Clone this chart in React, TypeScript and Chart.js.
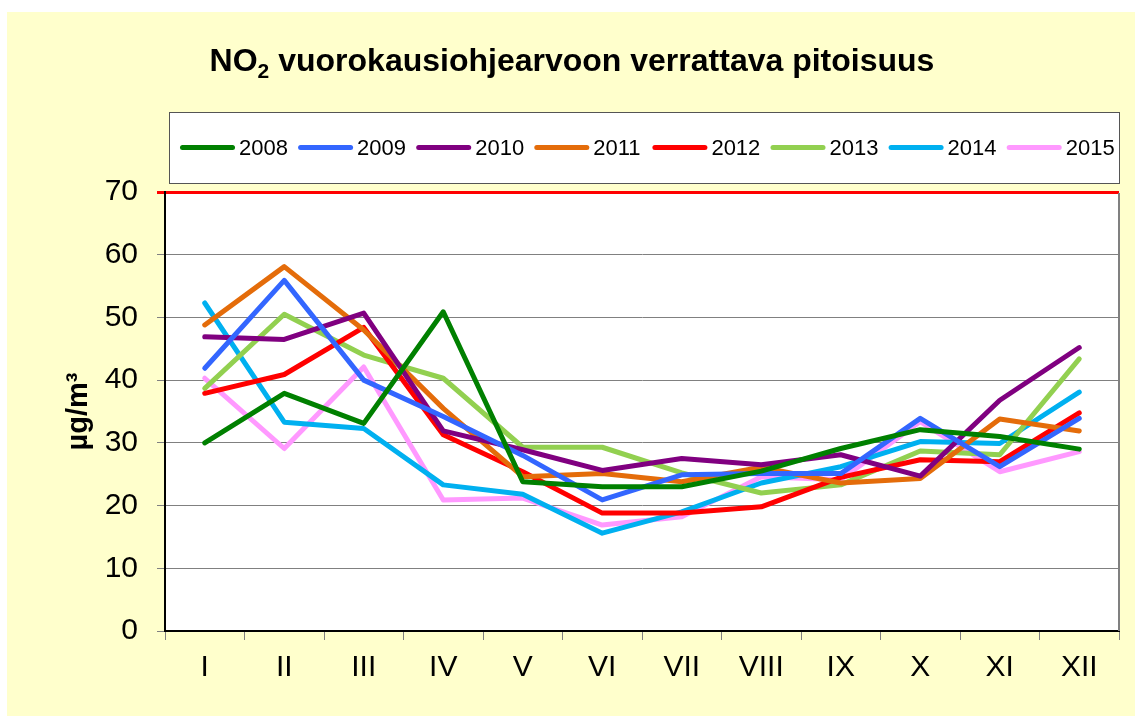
import { useEffect, useRef } from "react";
import { Chart, registerables } from "chart.js";

Chart.register(...registerables);

const W = 1135;
const H = 716;

const months = ["I", "II", "III", "IV", "V", "VI", "VII", "VIII", "IX", "X", "XI", "XII"];
const years = ["2008", "2009", "2010", "2011", "2012", "2013", "2014", "2015"];
const colors = ["#008000", "#3366FF", "#800080", "#E46C0A", "#FF0000", "#92D050", "#00B0F0", "#FF99FF"];

const v2008 = [30.0, 37.9, 33.1, 50.9, 23.8, 23.0, 23.0, 25.5, 29.1, 32.1, 31.0, 29.0];
const v2009 = [41.9, 55.9, 40.0, 34.2, 28.0, 20.9, 24.9, 25.1, 25.1, 33.9, 26.2, 33.9];
const v2010 = [46.9, 46.5, 50.7, 31.9, 28.9, 25.6, 27.5, 26.5, 28.1, 24.7, 36.8, 45.2];
const v2011 = [48.8, 58.1, 48.0, 35.5, 24.6, 25.1, 23.8, 26.1, 23.6, 24.3, 33.8, 31.9];
const v2012 = [37.9, 40.9, 48.4, 31.3, 25.4, 18.8, 18.8, 19.8, 24.5, 27.3, 27.0, 34.8];
const v2013 = [38.7, 50.5, 44.0, 40.3, 29.3, 29.3, 25.2, 22.0, 23.3, 28.7, 28.1, 43.4];
const v2014 = [52.3, 33.3, 32.3, 23.3, 21.8, 15.6, 19.0, 23.6, 26.2, 30.2, 29.9, 38.1];
const v2015 = [40.3, 29.1, 42.1, 20.9, 21.2, 16.9, 18.2, 24.6, 24.1, 33.4, 25.4, 28.6];
const seriesValues = [v2008, v2009, v2010, v2011, v2012, v2013, v2014, v2015];

const yMin = 0;
const yMax = 70;
const yStep = 10;
const limitValue = 70;

const titleMain = "NO";
const titleSub = "2";
const titleRest = " vuorokausiohjearvoon verrattava pitoisuus";
const yAxisTitle = "\u00B5g/m\u00B3";

const FONT = '"Liberation Sans", Arial, Helvetica, sans-serif';

const decorPlugin = {
  id: "decor",
  beforeDraw(chart: any) {
    const { ctx, chartArea: a } = chart;
    ctx.save();
    // backgrounds
    ctx.fillStyle = "#FFFFFF";
    ctx.fillRect(0, 0, W, H);
    ctx.fillStyle = "#FFFFCC";
    ctx.fillRect(7, 12, W - 7, H - 12);
    ctx.fillStyle = "#FFFFFF";
    ctx.fillRect(a.left, a.top, a.right - a.left, a.bottom - a.top);

    // title
    ctx.fillStyle = "#000";
    ctx.textBaseline = "alphabetic";
    ctx.textAlign = "left";
    const fMain = `bold 32px ${FONT}`;
    const fSub = `bold 21px ${FONT}`;
    ctx.font = fMain;
    const w1 = ctx.measureText(titleMain).width;
    const w3 = ctx.measureText(titleRest).width;
    ctx.font = fSub;
    const w2 = ctx.measureText(titleSub).width;
    const total = w1 + w2 + w3;
    let tx = 572 - total / 2;
    const ty = 71;
    ctx.font = fMain;
    ctx.fillText(titleMain, tx, ty);
    tx += w1;
    ctx.font = fSub;
    ctx.fillText(titleSub, tx, ty + 7);
    tx += w2;
    ctx.font = fMain;
    ctx.fillText(titleRest, tx, ty);

    // legend box
    const lbL = 169.5, lbT = 112.5, lbR = 1119.5, lbB = 183.5;
    ctx.fillStyle = "#FFFFFF";
    ctx.fillRect(lbL, lbT, lbR - lbL, lbB - lbT);
    ctx.strokeStyle = "#555";
    ctx.lineWidth = 1;
    ctx.strokeRect(lbL, lbT, lbR - lbL, lbB - lbT);

    const lx0 = 180;
    const stride = 118.1;
    const sampleW = 55;
    const ly = 147.5;
    ctx.font = `22px ${FONT}`;
    ctx.textBaseline = "alphabetic";
    chart.data.datasets.forEach((ds: any, i: number) => {
      const x = lx0 + i * stride;
      ctx.strokeStyle = ds.borderColor;
      ctx.lineWidth = 5;
      ctx.lineCap = "round";
      ctx.beginPath();
      ctx.moveTo(x + 2.5, ly);
      ctx.lineTo(x + sampleW - 2.5, ly);
      ctx.stroke();
      ctx.fillStyle = "#000";
      ctx.fillText(ds.label, x + sampleW + 4, 155);
    });

    // y axis title
    ctx.save();
    ctx.translate(87, (a.top + a.bottom) / 2);
    ctx.rotate(-Math.PI / 2);
    ctx.font = `bold 29px ${FONT}`;
    ctx.textAlign = "center";
    ctx.textBaseline = "alphabetic";
    ctx.fillStyle = "#000";
    ctx.fillText(yAxisTitle, 0, 0);
    ctx.restore();

    ctx.restore();
  },
  afterDatasetsDraw(chart: any) {
    const { ctx, chartArea: a } = chart;
    ctx.save();
    ctx.strokeStyle = "#808080";
    ctx.lineWidth = 2;
    ctx.beginPath();
    ctx.moveTo(a.right, a.top + 1);
    ctx.lineTo(a.right, a.bottom);
    ctx.stroke();
    ctx.restore();
  },
};

export default function App() {
  const ref = useRef<HTMLCanvasElement | null>(null);

  useEffect(() => {
    if (!ref.current) return;
    const chart = new Chart(ref.current, {
      type: "line",
      data: {
        labels: months,
        datasets: years.map((y, i) => ({
          label: y,
          data: seriesValues[i],
          borderColor: colors[i],
          backgroundColor: colors[i],
          borderWidth: 5,
          borderJoinStyle: "round",
          borderCapStyle: "round",
          pointRadius: 0,
          pointHoverRadius: 0,
          tension: 0,
          fill: false,
        })),
      },
      options: {
        animation: false,
        responsive: false,
        maintainAspectRatio: false,
        events: [],
        layout: { padding: { top: 192, right: 16, bottom: 0, left: 0 } },
        plugins: {
          legend: { display: false },
          title: { display: false },
          tooltip: { enabled: false },
        },
        scales: {
          x: {
            type: "category",
            offset: true,
            afterFit: (s: any) => {
              s.height = 85;
            },
            grid: {
              offset: true,
              drawOnChartArea: false,
              drawTicks: true,
              tickLength: 9,
              color: "#808080",
              lineWidth: 1,
            },
            border: { display: true, color: "#000", width: 2 },
            ticks: {
              color: "#000",
              font: { family: FONT, size: 30 },
              padding: 10,
              maxRotation: 0,
              autoSkip: false,
            },
          },
          y: {
            min: yMin,
            max: yMax,
            afterFit: (s: any) => {
              s.width = 165;
            },
            grid: {
              drawTicks: true,
              tickLength: 8,
              color: (c: any) => (c.tick && c.tick.value === limitValue ? "#FF0000" : "#808080"),
              lineWidth: (c: any) => (c.tick && c.tick.value === limitValue ? 3 : 1),
            },
            border: { display: true, color: "#000", width: 2 },
            ticks: {
              stepSize: yStep,
              color: "#000",
              font: { family: FONT, size: 30 },
              padding: 19,
            },
          },
        },
      },
      plugins: [decorPlugin],
    } as any);
    return () => chart.destroy();
  }, []);

  return (
    <div style={{ position: "absolute", left: 0, top: 0, width: W, height: H, background: "#fff" }}>
      <canvas ref={ref} width={W} height={H} style={{ display: "block", width: W, height: H }} />
    </div>
  );
}
